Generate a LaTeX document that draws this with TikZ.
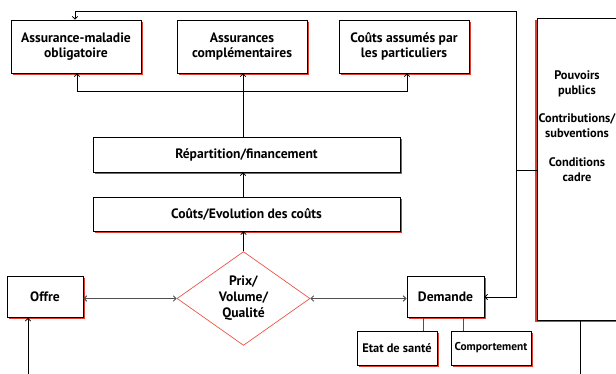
\documentclass[tikz,border=0pt]{standalone}
\usepackage{fontspec}
\setmainfont{PT Sans}
\usetikzlibrary{arrows.meta,shapes.geometric,shadows}
\definecolor{shred}{RGB}{222,62,48}
\definecolor{dmred}{RGB}{236,84,72}
\definecolor{lgray}{RGB}{80,80,80}
\begin{document}
\begin{tikzpicture}[x=1pt,y=-1pt,
  box/.style={draw=black, line width=0.8pt, fill=white, inner sep=0pt, align=center,
    font=\bfseries\fontsize{13.6}{15}\selectfont,
    drop shadow={shadow xshift=1.6pt, shadow yshift=-1.6pt, fill=shred, opacity=1}},
  smallbox/.style={box, font=\bfseries\fontsize{12.4}{13}\selectfont},
  lbox/.style={box, drop shadow={shadow xshift=-1.6pt, shadow yshift=-1.6pt, fill=shred, opacity=1}},
  arr/.style={-{Straight Barb[length=2.7pt,width=5.5pt]}, line width=0.8pt},
  darr/.style={{Straight Barb[length=2.7pt,width=5.5pt]}-{Straight Barb[length=2.7pt,width=5.5pt]}, line width=1pt, draw=lgray},
  gline/.style={line width=1pt, draw=lgray},
  plain/.style={line width=0.8pt}]
\useasboundingbox (0,0) rectangle (616,374);
\clip (0,0) rectangle (616,374);

% payers
\node[box, minimum width=130pt, minimum height=53pt] (amo) at (76,46.5) {Assurance-maladie\\obligatoire};
\node[box, minimum width=130pt, minimum height=53pt] (comp) at (242,46.5) {Assurances\\complémentaires};
\node[box, minimum width=130pt, minimum height=53pt] (cap) at (404,46.5) {Coûts assumés par\\les particuliers};

% financing chain
\node[box, minimum width=307pt, minimum height=35pt] (rep) at (246.5,154.5) {Répartition/financement};
\node[box, minimum width=307pt, minimum height=34pt] (cout) at (246.5,214) {Coûts/Evolution des coûts};
\node[diamond, draw=dmred, line width=0.7pt, inner sep=0pt, minimum width=133pt, minimum height=79pt,
  align=center, font=\bfseries\fontsize{13.6}{16}\selectfont] (pvq) at (243.5,298.5) {Prix/\\Volume/\\Qualité};

% market
\node[box, minimum width=76pt, minimum height=41pt] (offre) at (45,297) {Offre};
\node[box, minimum width=77pt, minimum height=41pt] (dem) at (445.5,297) {Demande};
\node[smallbox, minimum width=80pt, minimum height=34pt] (etat) at (397,348) {Etat de santé};
\node[smallbox, minimum width=80pt, minimum height=34pt, font=\bfseries\fontsize{11.4}{12}\selectfont] (comport) at (491,348) {Comportement};

% public authorities
\node[lbox, minimum width=82pt, minimum height=302pt] (pp) at (578,169) {};
\node[align=center, inner sep=0pt, font=\bfseries\fontsize{12.4}{15}\selectfont] (pptext) at (577,126.5)
  {Pouvoirs\\publics\\[13pt]Contributions/\\subventions\\[14pt]Conditions\\cadre};

% connectors
\coordinate (vx) at (243,0);
\coordinate (bus) at (243,91);
\coordinate (j) at (516,170);
\coordinate (tr) at (516,11);
\coordinate (ob) at (28,374);
\coordinate (pb) at (580,374);

\draw[arr] (rep.north -| vx) -- (comp.south -| vx);
\draw[arr] (bus) -| ([xshift=1pt]amo.south);
\draw[arr] (bus) -| ([xshift=3pt]cap.south);
\draw[arr] (cout.north -| vx) -- (rep.south -| vx);
\draw[arr] (pvq.north) -- (cout.south -| pvq.north);

\draw[plain] (pp.west |- j) -- (j);
\draw[arr] (j) -- (tr) -| ([xshift=-1pt]amo.north);
\draw[arr] (j) |- (dem.east);

\draw[darr] (offre.east |- pvq) -- (pvq.west);
\draw[darr] (pvq.east) -- (dem.west |- pvq);

\draw[gline] ([xshift=-22.5pt]dem.south) -- ([xshift=-22.5pt]dem.south |- etat.north);
\draw[gline] ([xshift=17.5pt]dem.south) -- ([xshift=17.5pt]dem.south |- comport.north);

\draw[arr] (ob) -- (ob |- offre.south);
\draw[plain] (pb |- pp.south) -- (pb);
\end{tikzpicture}
\end{document}
